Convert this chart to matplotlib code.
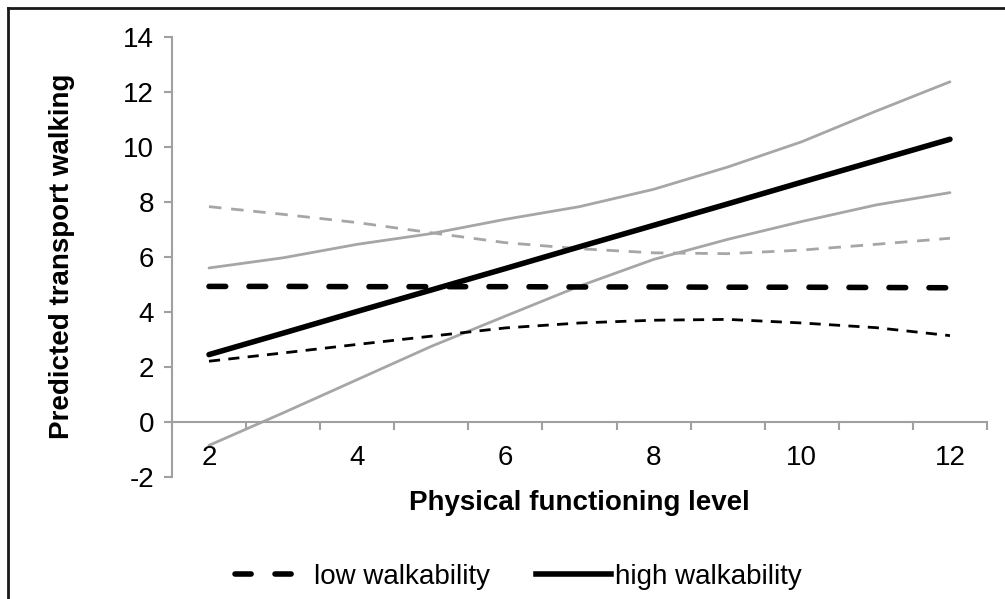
import matplotlib
matplotlib.use('Agg')
import matplotlib.pyplot as plt
from matplotlib.lines import Line2D

plt.rcParams['font.family'] = ['Liberation Sans', 'DejaVu Sans']

# --- data ---
levels = [2, 3, 4, 5, 6, 7, 8, 9, 10, 11, 12]
low_walk = [4.93, 4.93, 4.92, 4.92, 4.92, 4.91, 4.91, 4.90, 4.90, 4.89, 4.88]
low_upper = [7.83, 7.55, 7.25, 6.88, 6.52, 6.30, 6.15, 6.12, 6.25, 6.46, 6.68]
low_lower = [2.21, 2.51, 2.82, 3.12, 3.42, 3.60, 3.70, 3.73, 3.60, 3.43, 3.14]
high_walk = [2.45, 3.23, 4.02, 4.80, 5.58, 6.37, 7.15, 7.93, 8.72, 9.50, 10.28]
high_upper = [5.60, 5.97, 6.46, 6.85, 7.37, 7.83, 8.46, 9.27, 10.19, 11.30, 12.37]
high_lower = [-0.85, 0.33, 1.54, 2.75, 3.85, 4.94, 5.91, 6.64, 7.29, 7.89, 8.34]

y_ticks = [-2, 0, 2, 4, 6, 8, 10, 12, 14]
x_labels = [2, 4, 6, 8, 10, 12]

GREY = '#a6a6a6'
AXC = '#a0a0a0'
FS = 20

fig = plt.figure(figsize=(10.05, 5.99), dpi=100)
ax = fig.add_axes([0.1711, 0.2037, 0.811, 0.7346])

# confidence bands
ax.plot(levels, high_upper, color=GREY, lw=2.0, solid_capstyle='round')
ax.plot(levels, high_lower, color=GREY, lw=2.0, solid_capstyle='round')
ax.plot(levels, low_upper, color=GREY, lw=2.0, dashes=(4.5, 3.5))
ax.plot(levels, low_lower, color='black', lw=2.0, dashes=(4, 3))

# main estimates
ax.plot(levels, low_walk, color='black', lw=4.0, dashes=(3.0, 4.2),
        dash_capstyle='round')
ax.plot(levels, high_walk, color='black', lw=4.0, solid_capstyle='round')

ax.set_xlim(1.5, 12.5)
ax.set_ylim(-2, 14)

# axes in Excel style: y axis left, x axis crossing at 0
for s in ['top', 'right']:
    ax.spines[s].set_visible(False)
ax.spines['left'].set_color(AXC)
ax.spines['left'].set_linewidth(1.5)
ax.spines['bottom'].set_position(('data', 0))
ax.spines['bottom'].set_color(AXC)
ax.spines['bottom'].set_linewidth(1.5)

ax.set_yticks(y_ticks)
ax.set_yticklabels([str(v) for v in y_ticks], fontsize=FS)
ax.tick_params(axis='y', direction='out', length=6, width=1.5, color=AXC, pad=7)

# category boundaries as ticks, labels at the bottom
ax.set_xticks([v + 0.5 for v in [1] + levels])
ax.set_xticklabels([])
ax.tick_params(axis='x', direction='out', length=6, width=1.5, color=AXC)
trans = ax.get_xaxis_transform()
for v in x_labels:
    ax.text(v, 0.043, str(v), transform=trans, ha='center', va='center', fontsize=FS)

ax.set_xlabel('Physical functioning level', fontsize=FS, fontweight='bold')
ax.xaxis.set_label_coords(0.5, -0.06)
ax.xaxis.label.set_va('center')
ax.set_ylabel('Predicted transport walking', fontsize=FS, fontweight='bold')
ax.yaxis.set_label_coords(-0.135, 0.502)
ax.yaxis.label.set_va('center')

handles = [
    Line2D([], [], color='black', lw=4.0, dashes=(2.9, 4.3), dash_capstyle='round'),
    Line2D([], [], color='black', lw=4.0),
]
fig.legend(handles, ['low walkability', 'high walkability'], loc='center',
           bbox_to_anchor=(0.516, 0.037), ncol=2, frameon=False, fontsize=FS,
           handlelength=2.7, handletextpad=0.15, columnspacing=1.65)

# frame lines (left and top) like the source
fig.add_artist(Line2D([0.008, 0.008], [0.0, 0.987], color='#1a1a1a', lw=2,
                      transform=fig.transFigure))
fig.add_artist(Line2D([0.008, 1.0], [0.987, 0.987], color='#1a1a1a', lw=2,
                      transform=fig.transFigure))

fig.savefig('out.png', dpi=100)
